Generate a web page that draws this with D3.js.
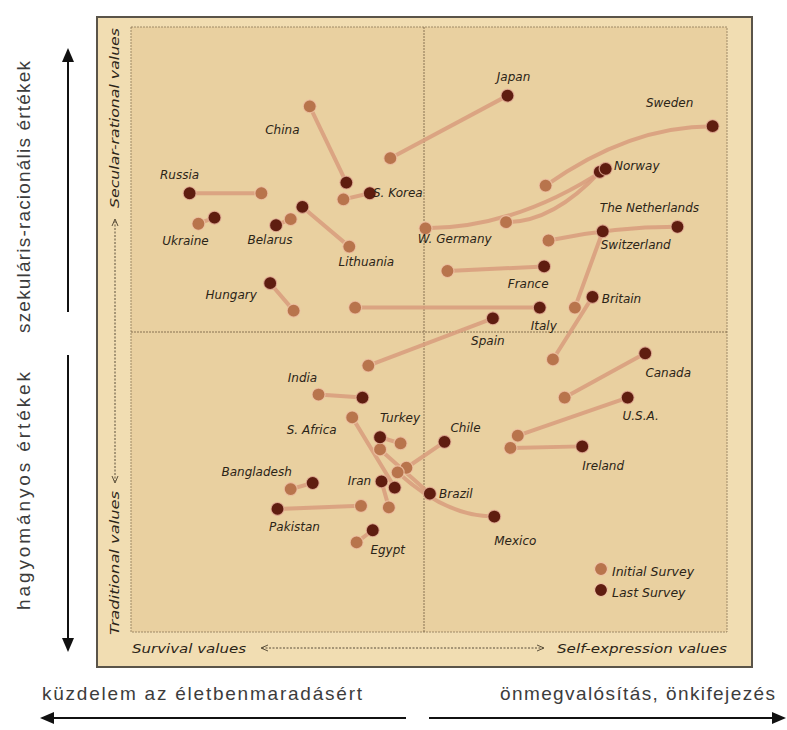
<!DOCTYPE html>
<html>
<head>
<meta charset="utf-8">
<script src="https://cdn.jsdelivr.net/npm/d3@7"></script>
<style>
  html, body { margin: 0; padding: 0; background: #ffffff; }
  svg { display: block; }
</style>
</head>
<body>
<script>
// ---------------- DATA ----------------
const countries = ["Japan","Sweden","China","Norway","W. Germany","Russia","S. Korea","The Netherlands",
  "Ukraine","Belarus","Switzerland","Lithuania","France","Hungary","Britain","Italy","Spain","Canada",
  "India","U.S.A.","Turkey","S. Africa","Chile","Ireland","Bangladesh","Iran","Brazil","Pakistan","Mexico","Egypt"];
// Survival (-) / Self-expression (+) values, initial survey
const initialX = [-0.23,0.83,-0.78,0.56,0.01,-1.11,-0.55,0.85,-1.54,-0.91,1.03,-0.51,0.16,-0.89,0.88,-0.47,-0.38,0.96,
  -0.72,0.64,-0.16,-0.49,-0.12,0.59,-0.91,-0.24,-0.30,-0.43,-0.18,-0.46];
// Traditional (-) / Secular-rational (+) values, initial survey
const initialY = [1.14,0.96,1.48,0.72,0.68,0.91,0.87,0.60,0.71,0.74,0.16,0.56,0.40,0.14,-0.18,0.16,-0.22,-0.43,
  -0.41,-0.68,-0.73,-0.56,-0.89,-0.76,-1.03,-1.15,-0.77,-1.14,-0.92,-1.38];
// last survey
const lastX = [0.57,1.97,-0.53,1.20,1.24,-1.60,-0.37,1.73,-1.43,-1.01,1.22,-0.83,0.82,-1.05,1.15,0.79,0.47,1.51,
  -0.42,1.39,-0.30,-0.20,0.14,1.08,-0.76,-0.29,0.04,-1.00,0.48,-0.35];
const lastY = [1.55,1.35,0.98,1.05,1.07,0.91,0.91,0.69,0.75,0.70,0.66,0.82,0.43,0.32,0.23,0.16,0.09,-0.14,
  -0.43,-0.43,-0.69,-1.02,-0.72,-0.75,-0.99,-0.98,-1.06,-1.16,-1.21,-1.30];
// path shape: 0 straight, 1 flattens toward last point, 2 leaves initial point flat
const pathShape = [0,1,0,2,2,0,0,1,0,0,0,0,0,0,0,0,0,0,0,0,0,0,0,0,0,0,0,0,1,0];
// label offsets (px) relative to last-survey point
const labelDX = [6,-43,-64,37,-151,-10,28,-28,-29,-6,33,64,-16,-39,29,4,-5,23,-60,13,20,-83,21,21,-56,-22,26,17,21,15];
const labelDY = [-19,-23,-53,-6,70,-18,0,-19,23,15,14,55,18,12,2,18,23,20,-20,18,-19,-58,-14,20,-11,0,0,18,24,20];
const legendLabels = ["Initial Survey","Last Survey"];

// ---------------- LAYOUT ----------------
const W = 787, H = 730;
const svg = d3.select("body").append("svg").attr("width", W).attr("height", H);

const x = d3.scaleLinear().domain([-2, 2]).range([131, 717]);
const y = d3.scaleLinear().domain([-2, 2]).range([637, 27]);

const colInitial = "#b8744c", colLast = "#5f1d10", colLine = "#d89c7c";
const textCol = "#2b2417";
const italicFont = "'DejaVu Sans', sans-serif";

// panel
svg.append("rect").attr("x", 97).attr("y", 17).attr("width", 655).attr("height", 650)
  .attr("fill", "#f1ddb2").attr("stroke", "#5a5449").attr("stroke-width", 2);
svg.append("rect").attr("x", 131).attr("y", 27).attr("width", 596).attr("height", 605)
  .attr("fill", "#e9d0a0").attr("stroke", "#8a7655").attr("stroke-width", 0.8).attr("stroke-dasharray", "2,1");

// quadrant lines
svg.append("line").attr("x1", x(0)).attr("x2", x(0)).attr("y1", 27).attr("y2", 632)
  .attr("stroke", "#6f5c40").attr("stroke-width", 0.8).attr("stroke-dasharray", "2,1");
svg.append("line").attr("x1", 131).attr("x2", 727).attr("y1", y(0)).attr("y2", y(0))
  .attr("stroke", "#6f5c40").attr("stroke-width", 0.8).attr("stroke-dasharray", "2,1");

// inner axis labels
function rotText(cx, cy, txt, len) {
  svg.append("text").attr("transform", `translate(${cx},${cy}) rotate(-90)`)
    .attr("text-anchor", "middle").attr("dominant-baseline", "central")
    .attr("font-family", italicFont).attr("font-style", "italic").attr("font-size", 12.5)
    .attr("fill", textCol).attr("textLength", len).attr("lengthAdjust", "spacingAndGlyphs").text(txt);
}
rotText(114, 118, "Secular-rational values", 180);
rotText(114, 563, "Traditional values", 144);
function hText(cx, cy, txt, len) {
  svg.append("text").attr("x", cx).attr("y", cy)
    .attr("text-anchor", "middle").attr("dominant-baseline", "central")
    .attr("font-family", italicFont).attr("font-style", "italic").attr("font-size", 12.5)
    .attr("fill", textCol).attr("textLength", len).attr("lengthAdjust", "spacingAndGlyphs").text(txt);
}
hText(189, 648, "Survival values", 114);
hText(642, 648, "Self-expression values", 170);

// inner double arrows (thin)
const thin = svg.append("g").attr("stroke", "#4a3f2c").attr("stroke-width", 0.9).attr("fill", "none");
thin.append("line").attr("x1", 115).attr("x2", 115).attr("y1", 221).attr("y2", 481).attr("stroke-dasharray", "2,1.5");
thin.append("path").attr("d", "M112,226 L115,219 L118,226");
thin.append("path").attr("d", "M112,476 L115,483 L118,476");
thin.append("line").attr("x1", 262).attr("x2", 543).attr("y1", 648).attr("y2", 648).attr("stroke-dasharray", "2,1.5");
thin.append("path").attr("d", "M268,645 L261,648 L268,651");
thin.append("path").attr("d", "M537,645 L544,648 L537,651");

// ---------------- MARKS ----------------
const idx = d3.range(countries.length);

function connector(i) {
  const x0 = x(initialX[i]), y0 = y(initialY[i]), x1 = x(lastX[i]), y1 = y(lastY[i]);
  const p = d3.path();
  p.moveTo(x0, y0);
  if (pathShape[i] === 1) p.quadraticCurveTo((x0 + x1) / 2, y1, x1, y1);
  else if (pathShape[i] === 2) p.quadraticCurveTo((x0 + x1) / 2, y0, x1, y1);
  else p.lineTo(x1, y1);
  return p.toString();
}

svg.append("g").selectAll("path").data(idx).join("path")
  .attr("d", connector).attr("fill", "none")
  .attr("stroke", colLine).attr("stroke-width", 4).attr("stroke-linecap", "round").attr("opacity", 0.85);

svg.append("g").selectAll("circle").data(idx).join("circle")
  .attr("cx", i => x(initialX[i])).attr("cy", i => y(initialY[i])).attr("r", 6.5)
  .attr("fill", colInitial).attr("stroke", "#f0c6a8").attr("stroke-width", 1.2).attr("stroke-opacity", 0.8);

svg.append("g").selectAll("circle").data(idx).join("circle")
  .attr("cx", i => x(lastX[i])).attr("cy", i => y(lastY[i])).attr("r", 6.5)
  .attr("fill", colLast).attr("stroke", "#e8b49c").attr("stroke-width", 1.2).attr("stroke-opacity", 0.8);

svg.append("g").selectAll("text").data(idx).join("text")
  .attr("x", i => x(lastX[i]) + labelDX[i]).attr("y", i => y(lastY[i]) + labelDY[i])
  .attr("text-anchor", "middle").attr("dominant-baseline", "central")
  .attr("font-family", italicFont).attr("font-style", "italic").attr("font-size", 12)
  .attr("fill", textCol).text(i => countries[i]);

// legend
const leg = svg.append("g");
[colInitial, colLast].forEach((c, k) => {
  leg.append("circle").attr("cx", 601).attr("cy", 569 + k * 21).attr("r", 6.5)
    .attr("fill", c).attr("stroke", "#f0c6a8").attr("stroke-width", 1.2);
  leg.append("text").attr("x", 612).attr("y", 571 + k * 21).attr("dominant-baseline", "central")
    .attr("font-family", italicFont).attr("font-style", "italic").attr("font-size", 12.5)
    .attr("fill", textCol).text(legendLabels[k]);
});

// ---------------- OUTER (Hungarian) AXES ----------------
const outerCol = "#3c3c3c";
const outerFont = "'Liberation Sans', Arial, sans-serif";
function outerRot(cx, cy, txt, len) {
  svg.append("text").attr("transform", `translate(${cx},${cy}) rotate(-90)`)
    .attr("text-anchor", "middle").attr("dominant-baseline", "central")
    .attr("font-family", outerFont).attr("font-size", 19).attr("fill", outerCol)
    .attr("textLength", len).attr("lengthAdjust", "spacing").text(txt);
}
outerRot(23, 197, "szekuláris-racionális értékek", 272);
outerRot(23, 491, "hagyományos értékek", 238);
svg.append("text").attr("x", 42).attr("y", 693).attr("dominant-baseline", "central")
  .attr("font-family", outerFont).attr("font-size", 19).attr("fill", outerCol)
  .attr("textLength", 320).attr("lengthAdjust", "spacing").text("küzdelem az életbenmaradásért");
svg.append("text").attr("x", 500).attr("y", 693).attr("dominant-baseline", "central")
  .attr("font-family", outerFont).attr("font-size", 19).attr("fill", outerCol)
  .attr("textLength", 275).attr("lengthAdjust", "spacing").text("önmegvalósítás, önkifejezés");

const arr = svg.append("g");
arr.append("line").attr("x1", 68).attr("x2", 68).attr("y1", 312).attr("y2", 58).attr("stroke", "#111").attr("stroke-width", 2);
arr.append("path").attr("d", "M62,62 L68,48 L74,62 Z").attr("fill", "#111");
arr.append("line").attr("x1", 68).attr("x2", 68).attr("y1", 355).attr("y2", 642).attr("stroke", "#111").attr("stroke-width", 2);
arr.append("path").attr("d", "M62,638 L68,652 L74,638 Z").attr("fill", "#111");
arr.append("line").attr("x1", 50).attr("x2", 406).attr("y1", 718).attr("y2", 718).attr("stroke", "#111").attr("stroke-width", 2);
arr.append("path").attr("d", "M54,712 L40,718 L54,724 Z").attr("fill", "#111");
arr.append("line").attr("x1", 429).attr("x2", 775).attr("y1", 718).attr("y2", 718).attr("stroke", "#111").attr("stroke-width", 2);
arr.append("path").attr("d", "M772,712 L786,718 L772,724 Z").attr("fill", "#111");
</script>
</body>
</html>
